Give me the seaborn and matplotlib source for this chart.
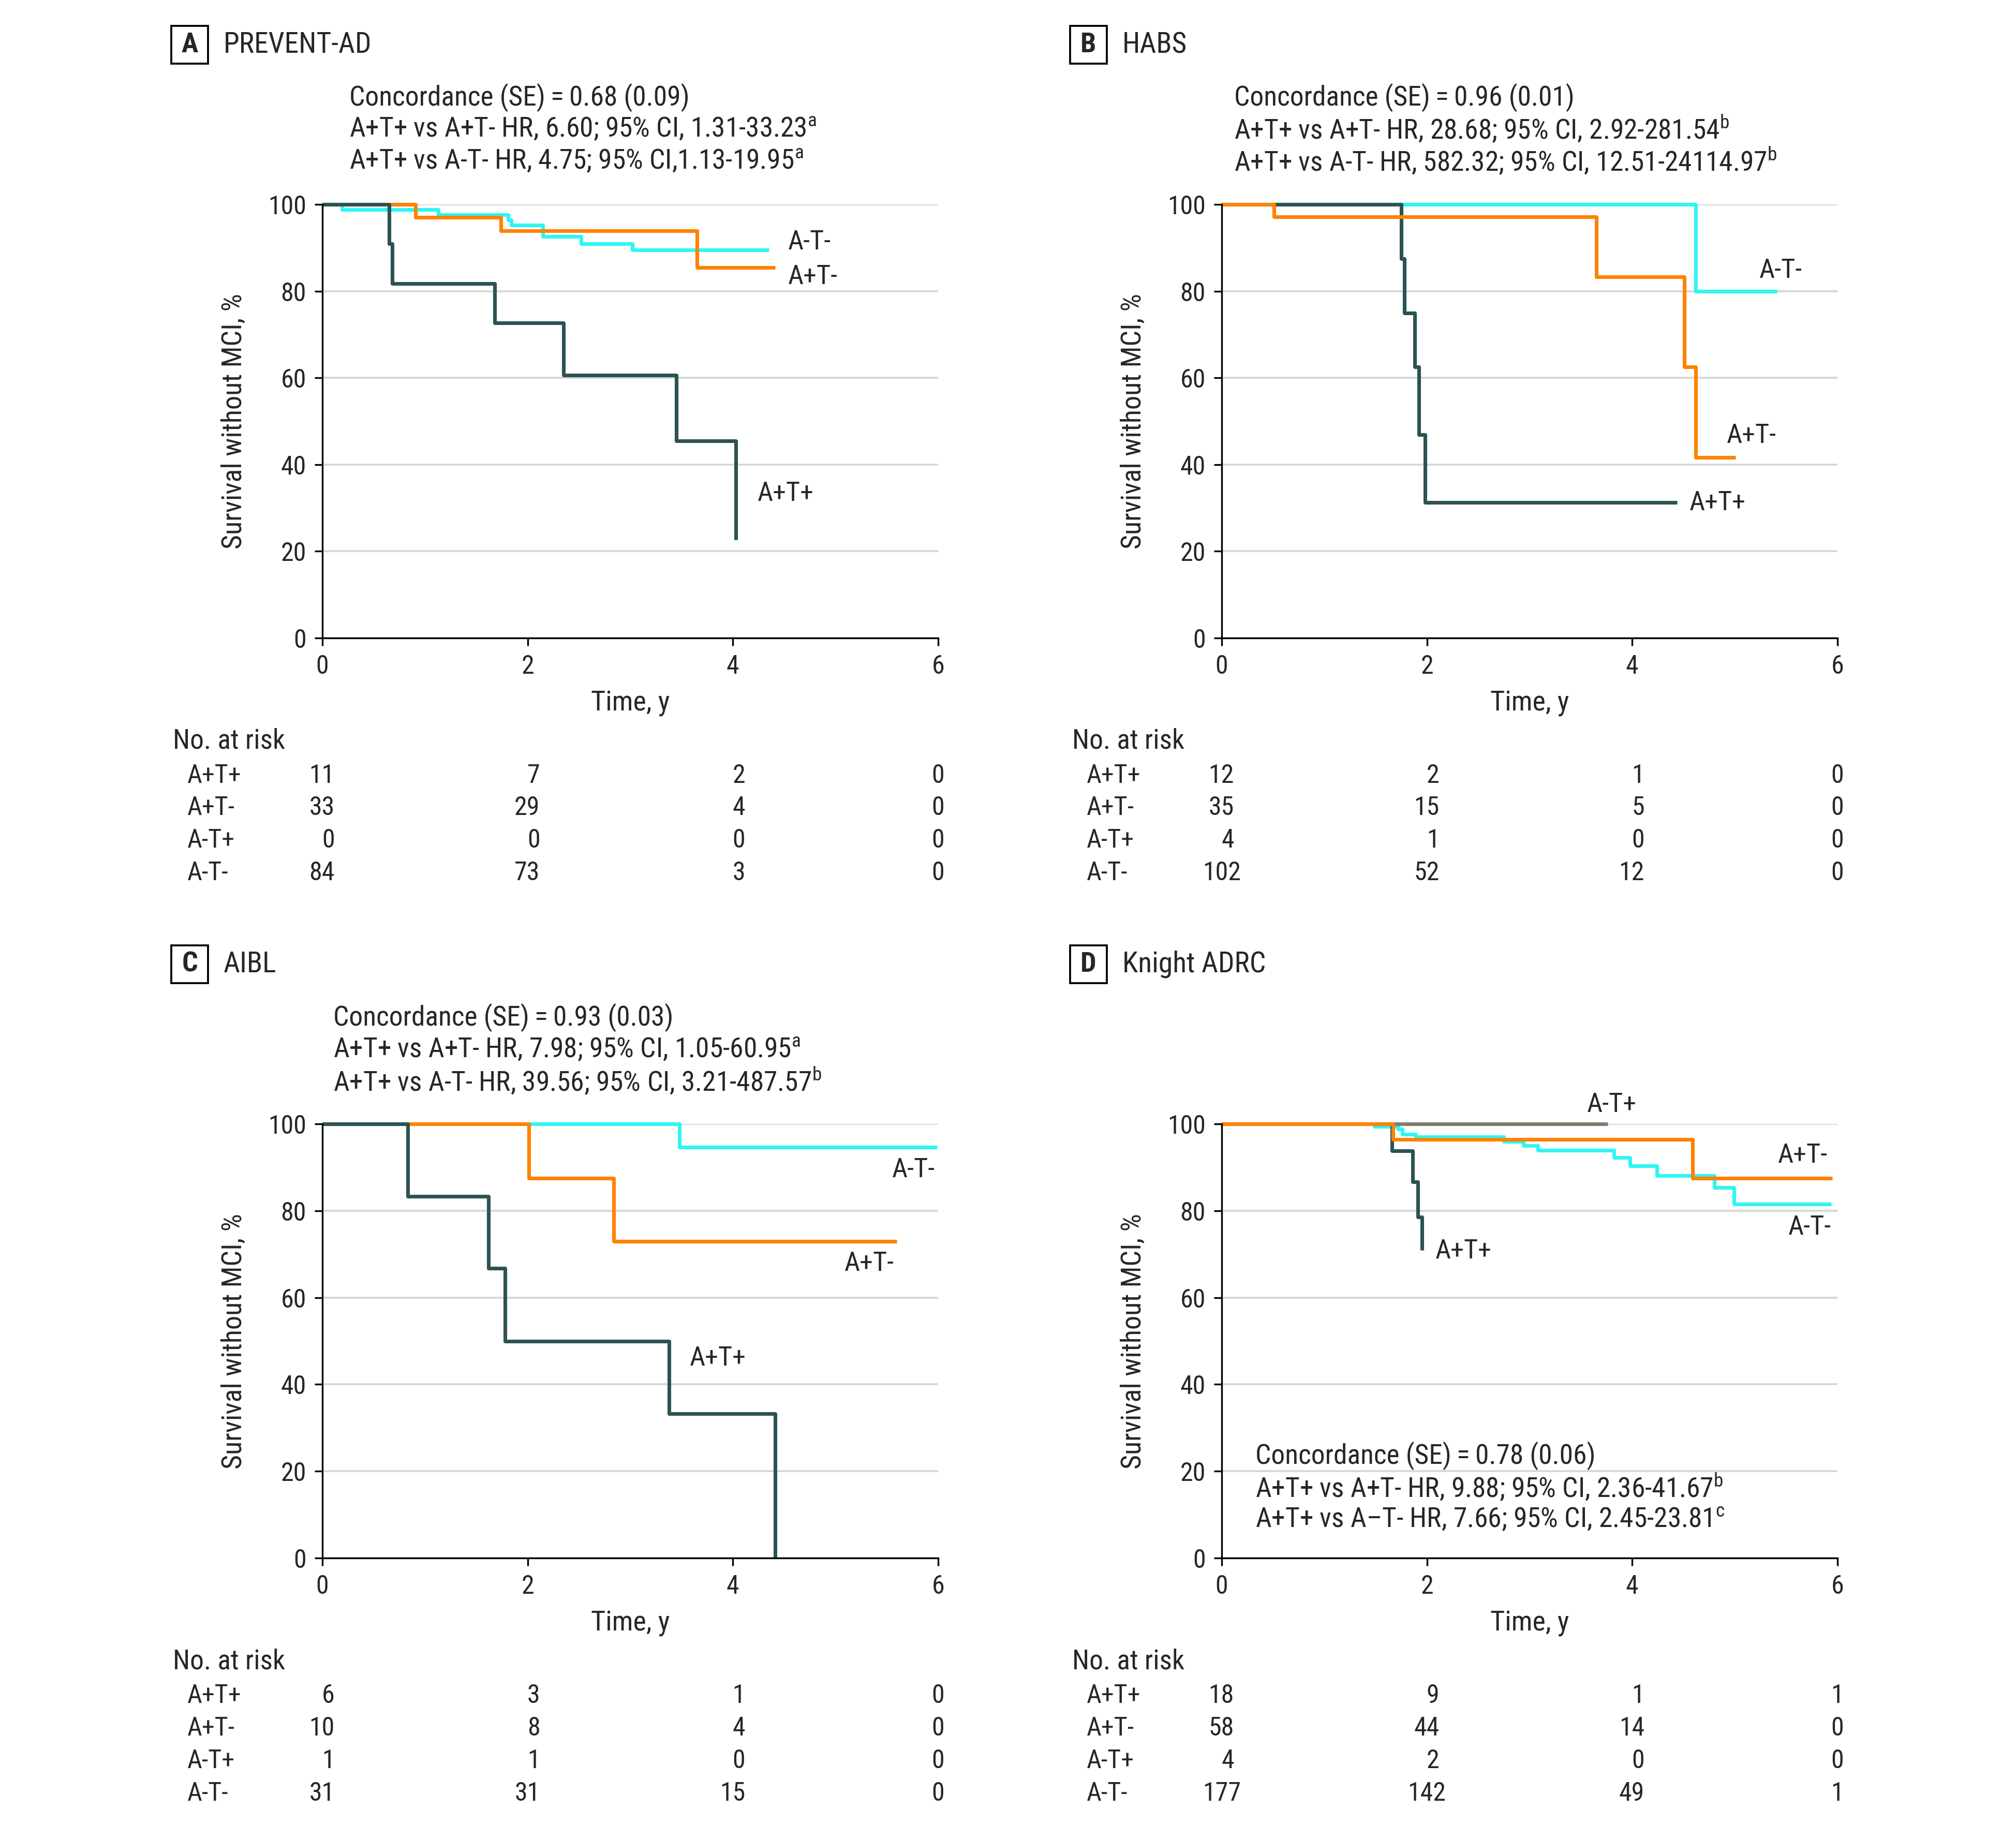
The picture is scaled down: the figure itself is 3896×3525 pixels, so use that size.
"""
Kaplan-Meier curves of survival without MCI for four cohorts (A-D),
with the number-at-risk table printed under each panel.
"""

import matplotlib

matplotlib.use("Agg")
import matplotlib.pyplot as plt
import matplotlib.transforms as mtransforms
import pandas as pd
import seaborn as sns
from matplotlib import font_manager
from matplotlib.patches import Rectangle

# ---------------------------------------------------------------------------
# Data
# ---------------------------------------------------------------------------
GROUPS = ["A+T+", "A+T-", "A-T+", "A-T-"]
RISK_TIMES = [0, 2, 4, 6]

# A  PREVENT-AD
prev_pp_time = [0, 0.65, 0.68, 1.68, 2.35, 3.45, 4.03]
prev_pp_surv = [100, 90.9, 81.8, 72.7, 60.6, 45.5, 22.7]
prev_pm_time = [0, 0.91, 1.74, 3.65, 4.41]
prev_pm_surv = [100, 97.0, 93.9, 85.4, 85.4]
prev_mm_time = [0, 0.19, 1.13, 1.81, 1.84, 2.15, 2.52, 3.02, 4.35]
prev_mm_surv = [100, 98.8, 97.6, 96.4, 95.2, 92.6, 91.0, 89.5, 89.5]
prev_risk = [[11, 7, 2, 0], [33, 29, 4, 0], [0, 0, 0, 0], [84, 73, 3, 0]]

# B  HABS
habs_pp_time = [0, 1.75, 1.78, 1.88, 1.92, 1.98, 4.44]
habs_pp_surv = [100, 87.5, 75.0, 62.5, 46.9, 31.3, 31.3]
habs_pm_time = [0, 0.51, 3.65, 4.51, 4.62, 5.01]
habs_pm_surv = [100, 97.1, 83.3, 62.5, 41.7, 41.7]
habs_mm_time = [0, 4.62, 5.41]
habs_mm_surv = [100, 80.0, 80.0]
habs_risk = [[12, 2, 1, 0], [35, 15, 5, 0], [4, 1, 0, 0], [102, 52, 12, 0]]

# C  AIBL
aibl_pp_time = [0, 0.83, 1.62, 1.78, 3.38, 4.41]
aibl_pp_surv = [100, 83.3, 66.7, 50.0, 33.3, 0]
aibl_pm_time = [0, 2.01, 2.84, 5.60]
aibl_pm_surv = [100, 87.5, 72.9, 72.9]
aibl_mm_time = [0, 3.48, 5.99]
aibl_mm_surv = [100, 94.7, 94.7]
aibl_risk = [[6, 3, 1, 0], [10, 8, 4, 0], [1, 1, 0, 0], [31, 31, 15, 0]]

# D  Knight ADRC
knight_pp_time = [0, 1.66, 1.86, 1.91, 1.95]
knight_pp_surv = [100, 93.8, 86.7, 78.6, 70.9]
knight_pm_time = [0, 1.67, 4.59, 5.95]
knight_pm_surv = [100, 96.4, 87.5, 87.5]
knight_mp_time = [0, 3.76]
knight_mp_surv = [100, 100]
knight_mm_time = [0, 1.49, 1.72, 1.76, 1.89, 2.75, 2.94, 3.08, 3.82, 3.98,
                  4.24, 4.80, 4.99, 5.94]
knight_mm_surv = [100, 99.4, 98.8, 97.6, 97.0, 96.0, 95.0, 93.9, 92.3, 90.4,
                  88.1, 85.3, 81.5, 81.5]
knight_risk = [[18, 9, 1, 1], [58, 44, 14, 0], [4, 2, 0, 0], [177, 142, 49, 1]]

COLORS = {
    "A+T+": "#2b5352",
    "A+T-": "#ff8200",
    "A-T+": "#7e7e6e",
    "A-T-": "#30f5f5",
}

# ---------------------------------------------------------------------------
# Panel layout
# ---------------------------------------------------------------------------
EQ = "\u2009=\u2009"
panels = [
    {
        "letter": "A", "name": "PREVENT-AD",
        "curves": {"A+T+": (prev_pp_time, prev_pp_surv),
                   "A+T-": (prev_pm_time, prev_pm_surv),
                   "A-T-": (prev_mm_time, prev_mm_surv)},
        "order": ["A-T-", "A+T-", "A+T+"],
        "risk": prev_risk,
        "stats": [f"Concordance (SE){EQ}0.68 (0.09)",
                  r"A+T+ vs A+T- HR, 6.60; 95% CI, 1.31-33.23$^{\mathregular{a}}$",
                  r"A+T+ vs A-T- HR, 4.75; 95% CI,1.13-19.95$^{\mathregular{a}}$"],
        "stats_pos": (0.044, [1.247, 1.173, 1.099]),
        "labels": {"A-T-": (4.54, 91.3), "A+T-": (4.54, 83.3),
                   "A+T+": (4.24, 33.3)},
        "rect": [0.1599, 0.6502, 0.3054, 0.2377],
        "box": (0.0850, 0.9651),
    },
    {
        "letter": "B", "name": "HABS",
        "curves": {"A+T+": (habs_pp_time, habs_pp_surv),
                   "A+T-": (habs_pm_time, habs_pm_surv),
                   "A-T-": (habs_mm_time, habs_mm_surv)},
        "order": ["A-T-", "A+T+", "A+T-"],
        "risk": habs_risk,
        "stats": [f"Concordance (SE){EQ}0.96 (0.01)",
                  r"A+T+ vs A+T- HR, 28.68; 95% CI, 2.92-281.54$^{\mathregular{b}}$",
                  r"A+T+ vs A-T- HR, 582.32; 95% CI, 12.51-24114.97$^{\mathregular{b}}$"],
        "stats_pos": (0.020, [1.247, 1.173, 1.099]),
        "labels": {"A-T-": (5.24, 84.8), "A+T-": (4.92, 46.7),
                   "A+T+": (4.56, 31.2)},
        "rect": [0.6060, 0.6502, 0.3054, 0.2377],
        "box": (0.5308, 0.9651),
    },
    {
        "letter": "C", "name": "AIBL",
        "curves": {"A+T+": (aibl_pp_time, aibl_pp_surv),
                   "A+T-": (aibl_pm_time, aibl_pm_surv),
                   "A-T-": (aibl_mm_time, aibl_mm_surv)},
        "order": ["A-T-", "A+T-", "A+T+"],
        "risk": aibl_risk,
        "stats": [f"Concordance (SE){EQ}0.93 (0.03)",
                  r"A+T+ vs A+T- HR, 7.98; 95% CI, 1.05-60.95$^{\mathregular{a}}$",
                  r"A+T+ vs A-T- HR, 39.56; 95% CI, 3.21-487.57$^{\mathregular{b}}$"],
        "stats_pos": (0.018, [1.246, 1.171, 1.098]),
        "labels": {"A-T-": (5.55, 89.4), "A+T-": (5.09, 67.8),
                   "A+T+": (3.58, 46.0)},
        "rect": [0.1599, 0.1458, 0.3054, 0.2380],
        "box": (0.0850, 0.4610),
    },
    {
        "letter": "D", "name": "Knight ADRC",
        "curves": {"A+T+": (knight_pp_time, knight_pp_surv),
                   "A+T-": (knight_pm_time, knight_pm_surv),
                   "A-T+": (knight_mp_time, knight_mp_surv),
                   "A-T-": (knight_mm_time, knight_mm_surv)},
        "order": ["A-T-", "A+T+", "A-T+", "A+T-"],
        "risk": knight_risk,
        "stats": [f"Concordance (SE){EQ}0.78 (0.06)",
                  r"A+T+ vs A+T- HR, 9.88; 95% CI, 2.36-41.67$^{\mathregular{b}}$",
                  r"A+T+ vs A–T- HR, 7.66; 95% CI, 2.45-23.81$^{\mathregular{c}}$"],
        "stats_pos": (0.055, [0.236, 0.162, 0.088]),
        "labels": {"A-T+": (3.56, 104.4), "A+T-": (5.42, 92.7),
                   "A-T-": (5.52, 76.2), "A+T+": (2.08, 70.7)},
        "rect": [0.6060, 0.1458, 0.3054, 0.2380],
        "box": (0.5308, 0.4610),
    },
]


def km_frame(curves: dict) -> pd.DataFrame:
    """Long-format frame of the step curves, one row per step point."""
    rows = []
    for group, (times, survs) in curves.items():
        for t, s in zip(times, survs):
            rows.append({"group": group, "time": t, "surv": s})
    return pd.DataFrame(rows)


sns.set_theme(style="ticks")

# pick a condensed face if there is one; the original uses a narrow sans
available = {f.name for f in font_manager.fontManager.ttflist}
font_name = "DejaVu Sans"
for candidate in ["Liberation Sans Narrow", "Roboto Condensed", "Open Sans Condensed"]:
    if candidate in available:
        font_name = candidate
        break
plt.rcParams["font.family"] = [font_name, "DejaVu Sans"]
plt.rcParams["mathtext.fontset"] = "custom"
plt.rcParams["mathtext.rm"] = font_name

fig = plt.figure(figsize=(3896 / 300, 3525 / 300), dpi=300)

for panel in panels:
    ax = fig.add_axes(panel["rect"])
    df = km_frame(panel["curves"])

    for group in panel["order"]:
        sns.lineplot(
            data=df[df["group"] == group], x="time", y="surv",
            color=COLORS[group], linewidth=1.7, drawstyle="steps-post",
            estimator=None, sort=False, legend=False, ax=ax,
            clip_on=False, solid_capstyle="butt",
        )

    ax.set_xlim(0, 6)
    ax.set_ylim(0, 100)
    ax.set_xticks(RISK_TIMES)
    ax.set_yticks(range(0, 101, 20))
    ax.yaxis.grid(True, color="#d6d6d6", linewidth=0.9)
    ax.set_axisbelow(True)
    sns.despine(ax=ax)
    for side in ("left", "bottom"):
        ax.spines[side].set_linewidth(0.8)
        ax.spines[side].set_color("black")
    ax.tick_params(axis="both", direction="out", length=3.5, width=0.8,
                   color="black", labelsize=12, pad=4)

    ax.set_xlabel("Time, y", fontsize=13)
    ax.set_ylabel("Survival without MCI, %", fontsize=13)
    ax.xaxis.set_label_coords(0.5, -0.12)
    ax.yaxis.set_label_coords(-0.122, 0.5)

    # curve labels
    for group, (lx, ly) in panel["labels"].items():
        ax.text(lx, ly, group, fontsize=12.5, ha="left", va="center",
                clip_on=False)

    # statistics block
    sx, sys_ = panel["stats_pos"]
    for line, sy in zip(panel["stats"], sys_):
        ax.text(sx, sy, line, transform=ax.transAxes, fontsize=12.8,
                ha="left", va="center")

    # number at risk table
    ax.text(-0.243, -0.238, "No. at risk", transform=ax.transAxes,
            fontsize=12.8, ha="left", va="center")
    blend = mtransforms.blended_transform_factory(ax.transData, ax.transAxes)
    row_y = [-0.317, -0.392, -0.467, -0.542]
    for group, counts, ry in zip(GROUPS, panel["risk"], row_y):
        ax.text(-0.219, ry, group, transform=ax.transAxes, fontsize=12,
                ha="left", va="center")
        for col, (t, n) in enumerate(zip(RISK_TIMES, counts)):
            label = str(n)
            if col == len(RISK_TIMES) - 1 or len(label) > 2:
                ax.text(t, ry, label, transform=blend, fontsize=12,
                        ha="center", va="center")
            else:
                ax.text(t + 0.12, ry, label, transform=blend, fontsize=12,
                        ha="right", va="center")

    # boxed panel letter and cohort name
    bx, by = panel["box"]
    bw, bh = 0.0182, 0.0207
    fig.add_artist(Rectangle((bx, by), bw, bh, transform=fig.transFigure,
                             fill=False, edgecolor="black", linewidth=0.9))
    fig.text(bx + bw / 2, by + bh / 2, panel["letter"], fontsize=13,
             fontweight="bold", ha="center", va="center")
    fig.text(bx + bw + 0.0077, by + bh / 2, panel["name"], fontsize=13.3,
             ha="left", va="center")

fig.savefig("out.png", dpi=300, facecolor="white")
plt.close(fig)
